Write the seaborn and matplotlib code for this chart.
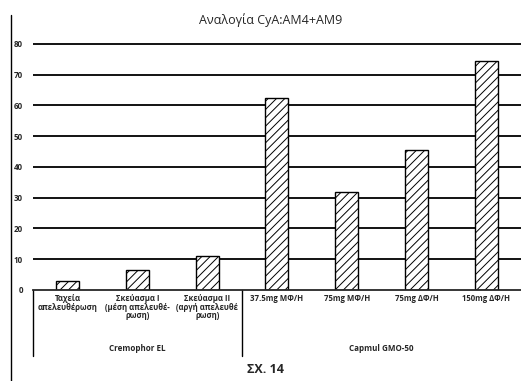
import numpy as np
import pandas as pd
import matplotlib
matplotlib.use("Agg")
import matplotlib.pyplot as plt
import seaborn as sns
from matplotlib.lines import Line2D

categories = ["Ταχεία\nαπελευθέρωση",
              "Σκεύασμα Ι\n(μέση απελευθέ-\nρωση)",
              "Σκεύασμα ΙΙ\n(αργή απελευθέ\nρωση)",
              "37.5mg ΜΦ/Η", "75mg ΜΦ/Η", "75mg ΔΦ/Η", "150mg ΔΦ/Η"]
values = [3, 6.5, 11, 62.5, 32, 45.5, 74.5]
groups = ["Cremophor EL", "Capmul GMO-50"]
group_sizes = [3, 4]
y_ticks = list(range(0, 90, 10))

sns.set_style("white")
plt.rcParams['font.family'] = ['Open Sans', 'DejaVu Sans']
plt.rcParams['hatch.linewidth'] = 0.7

df = pd.DataFrame({"cat": categories, "val": values})

fig = plt.figure(figsize=(5.21, 3.81), dpi=100)
ax = fig.add_axes([0.063, 0.239, 0.937, 0.6505])

for t in y_ticks[1:]:
    ax.axhline(t, color="black", lw=1.3, zorder=0)

sns.barplot(data=df, x="cat", y="val", color="white", edgecolor="black",
            linewidth=1.0, width=0.33, ax=ax, zorder=2)
for p in ax.patches:
    p.set_hatch("////")

ax.set_ylim(0, 80.6)
ax.set_xlim(-0.5, len(categories) - 0.5)
ax.set_yticks(y_ticks)
ax.set_yticklabels([str(t) for t in y_ticks], fontsize=5.8, fontweight="bold")
ax.set_xticks(range(len(categories)))
ax.set_xticklabels(categories, fontsize=5.6, fontweight="bold", linespacing=0.95)
ax.tick_params(axis="both", length=0, pad=3)
ax.tick_params(axis="y", pad=7)
ax.set_xlabel("")
ax.set_ylabel("")
sns.despine(ax=ax, left=True, right=True, top=True)
ax.spines["bottom"].set_linewidth(1.3)

# group separators and labels below the axis
start = 0
for g, n in zip(groups, group_sizes):
    ax.text((start + start + n - 1) / 2, -0.235, g, transform=ax.get_xaxis_transform(),
            ha="center", va="center", fontsize=5.8, fontweight="bold")
    line = Line2D([start - 0.5, start - 0.5], [0, -0.265], transform=ax.get_xaxis_transform(),
                  color="black", lw=1.0, clip_on=False)
    ax.add_line(line)
    start += n

fig.text(0.52, 0.947, "Αναλογία CyA:AM4+AM9", ha="center", va="center",
         fontsize=9, fontweight="medium")
fig.text(0.51, 0.03, "ΣΧ. 14", ha="center", va="center", fontsize=9, fontweight="bold")
fig.add_artist(Line2D([0.021, 0.021], [0.0, 0.96], transform=fig.transFigure,
                      color="black", lw=1.0))

fig.savefig("out.png", dpi=100)
